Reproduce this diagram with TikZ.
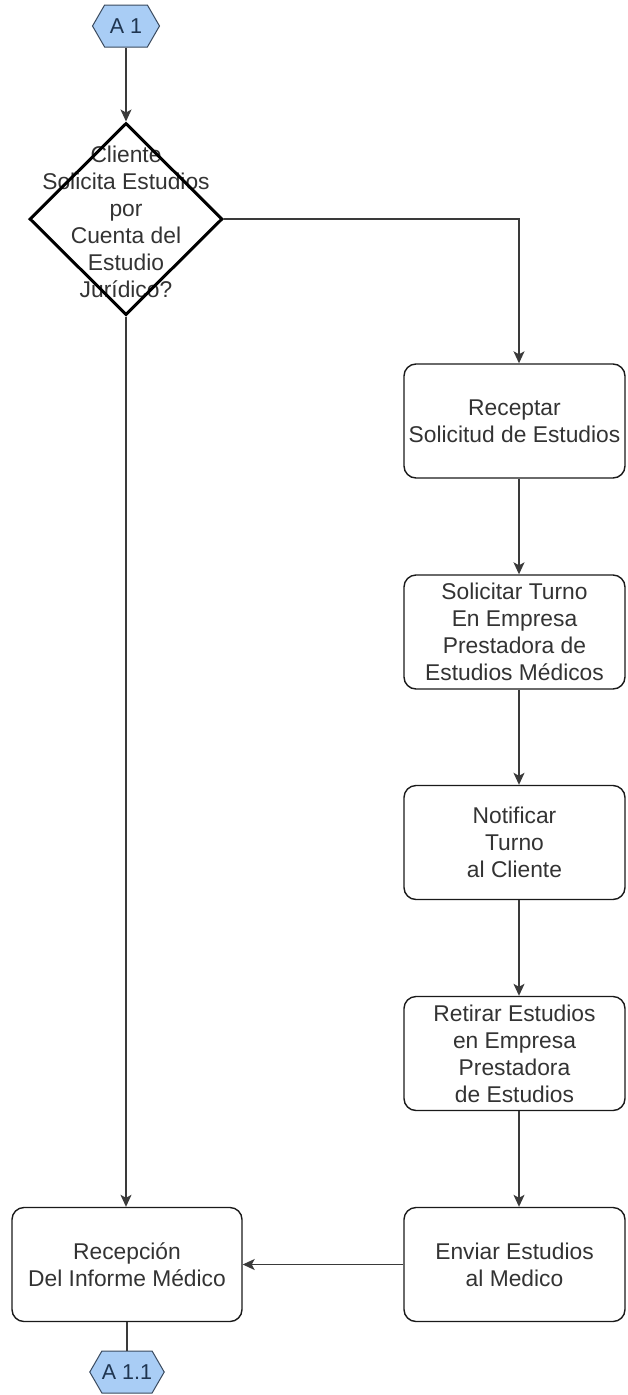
\documentclass[tikz,border=0pt]{standalone}
\usepackage{fontspec}
\setmainfont{Liberation Sans}
\usetikzlibrary{shapes.geometric,shapes.symbols,arrows.meta}
\definecolor{txt}{HTML}{333333}
\definecolor{linec}{HTML}{3A3A3A}
\definecolor{boxline}{HTML}{1A1A1A}
\definecolor{hexfill}{HTML}{A9CDF5}
\definecolor{hexline}{HTML}{3A4A5E}
\definecolor{hextext}{HTML}{1F3550}
\begin{document}
\begin{tikzpicture}[x=1pt,y=-1pt,
  proc/.style={draw=boxline, line width=1.4pt, rounded corners=12pt,
    minimum width=221pt, minimum height=114pt, inner sep=1pt,
    align=center, text=txt, font=\fontsize{22.8}{27}\selectfont},
  conn/.style={draw=linec, line width=1.4pt},
  arr/.style={conn, -{Stealth[length=12pt,width=11pt,inset=3pt]}},
  hexa/.style={signal, signal to=east and west, signal pointer angle=120,
    draw=hexline, fill=hexfill, line width=1pt, minimum width=67pt,
    minimum height=42pt, inner sep=0pt, text=hextext,
    font=\fontsize{21.5}{24}\selectfont},
  decision/.style={diamond, draw=black, line width=3pt, minimum width=193pt,
    minimum height=192pt, inner sep=0pt},
  dlabel/.style={align=center, text=txt, inner sep=0pt,
    font=\fontsize{22.8}{27}\selectfont}
]
\useasboundingbox (0,0) rectangle (627,1395);

% connectors' shared column on the right
\coordinate (col) at (519,0);

% start connector
\node[hexa] (h1) at (126,26) {A 1};

% decision
\node[dlabel] (dt) at (126,222) {Cliente\\Solicita Estudios\\por\\Cuenta del\\Estudio\\Jurídico?};
\node[decision] (d) at (126,219) {};

% right column of steps
\node[proc] (b1) at (514.5,421)    {Receptar\\Solicitud de Estudios};
\node[proc] (b2) at (514.5,632)    {Solicitar Turno\\En Empresa\\Prestadora de\\Estudios Médicos};
\node[proc] (b3) at (514.5,842.5)  {Notificar\\Turno\\al Cliente};
\node[proc] (b4) at (514.5,1053.5) {Retirar Estudios\\en Empresa\\Prestadora\\de Estudios};
\node[proc] (b5) at (514.5,1264.5) {Enviar Estudios\\al Medico};

% final step and exit connector
\node[proc, minimum width=230pt] (rx) at (127,1264.5) {Recepción\\Del Informe Médico};
\node[hexa] (h2) at (127,1372) {A 1.1};

% flow
\draw[arr] (h1.south) -- (d.north);
\draw[arr] (d.east) -| (b1.north -| col);
\draw[arr] (d.south) -- (d.south |- rx.north);
\draw[arr] (b1.south -| col) -- (b2.north -| col);
\draw[arr] (b2.south -| col) -- (b3.north -| col);
\draw[arr] (b3.south -| col) -- (b4.north -| col);
\draw[arr] (b4.south -| col) -- (b5.north -| col);
\draw[arr] (b5.west) -- (rx.east);
\draw[conn] (rx.south) -- (h2.north);
\end{tikzpicture}
\end{document}
